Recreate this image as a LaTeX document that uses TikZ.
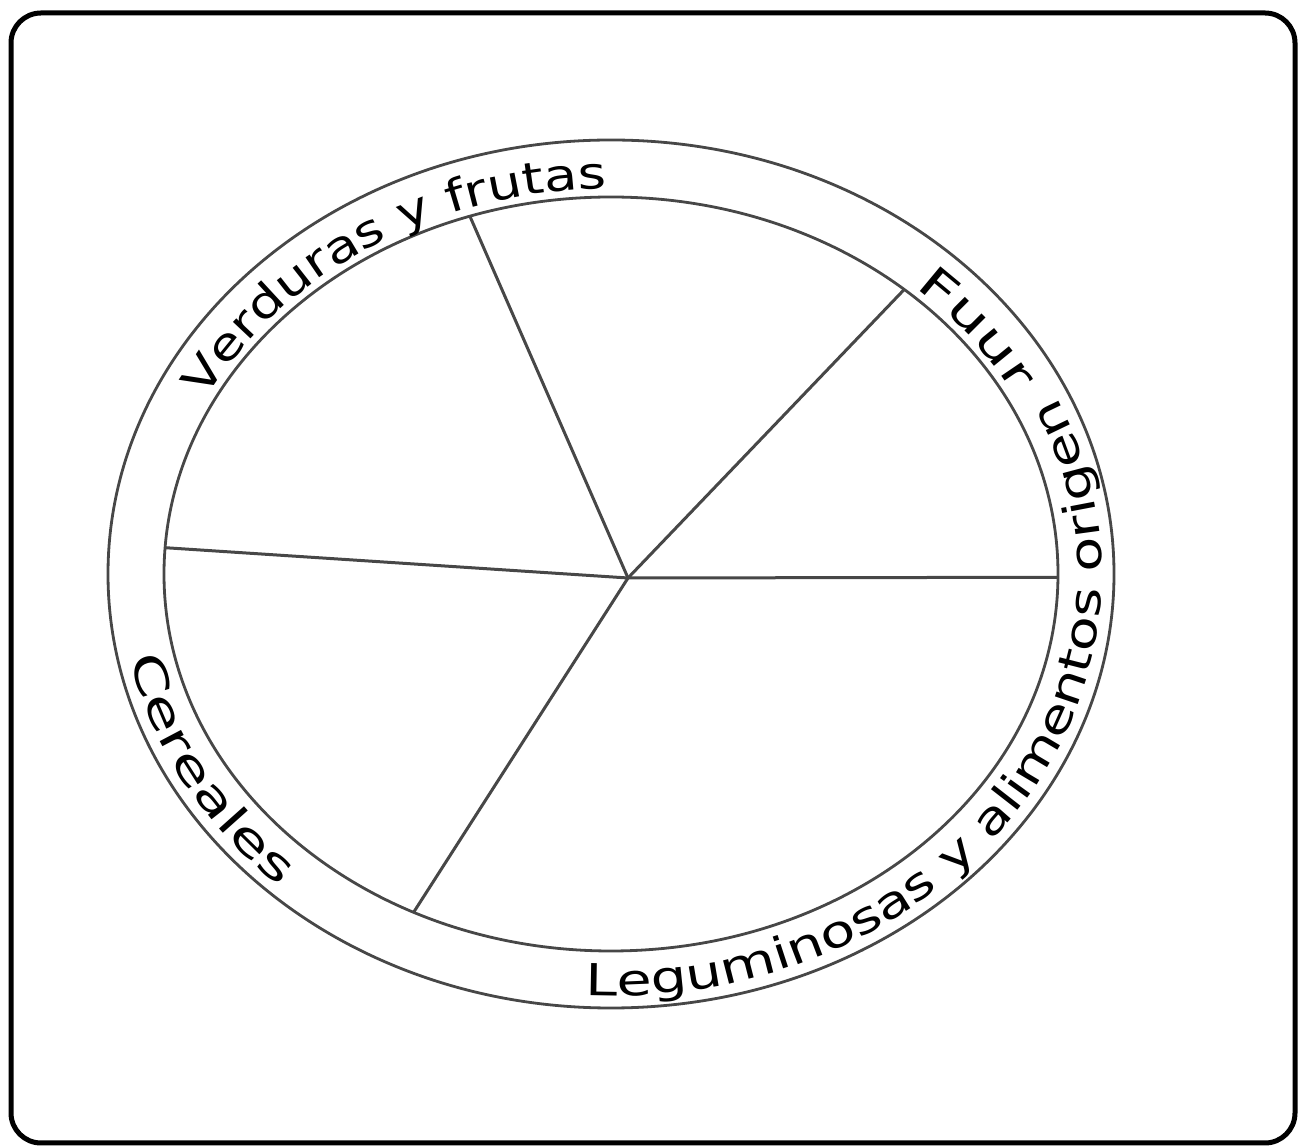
\documentclass[tikz,border=0pt]{standalone}
\usepackage{fontspec}
\setmainfont{DejaVu Sans}
\newfontfamily\lblfam[FakeStretch=1.3]{DejaVu Sans}
\newfontfamily\lblfamnarrow[FakeStretch=1.24]{DejaVu Sans}
\newfontfamily\lblfamwide[FakeStretch=1.45]{DejaVu Sans}
\usetikzlibrary{decorations.text}
\newcommand\lblfont{\lblfam\fontsize{44}{50}\selectfont}
\newcommand\lblfontn{\lblfamnarrow\fontsize{44}{50}\selectfont}
\newcommand\lblfontw{\lblfamwide\fontsize{44}{50}\selectfont}
\begin{document}
\begin{tikzpicture}[x=1pt,y=1pt,
  ring/.style={draw=black!72, line width=2.8pt},
  spoke/.style={draw=black!72, line width=3pt},
  frame/.style={draw=black, line width=5pt, rounded corners=30pt},
  lbl/.style={decorate, decoration={text along path, text align={left indent=0pt}, text format delimiters={|}{|}}}]
\useasboundingbox (0,0) rectangle (1304,1146);
\draw[frame] (11,3) rectangle (1295,1133);
\coordinate (ctr) at (611,572);
\draw[ring] (ctr) ellipse [x radius=503, y radius=434];
\draw[ring] (ctr) ellipse [x radius=447, y radius=377];
\coordinate (hub) at (628,568);
\path (ctr) ++(-0.5:447 and 377) coordinate (e1);
\path (ctr) ++(49:447 and 377) coordinate (e2);
\path (ctr) ++(108.4:447 and 377) coordinate (e3);
\path (ctr) ++(176:447 and 377) coordinate (e4);
\path (ctr) ++(243.8:447 and 377) coordinate (e5);
\draw[spoke] (hub) -- (e1);
\draw[spoke] (hub) -- (e2);
\draw[spoke] (hub) -- (e3);
\draw[spoke] (hub) -- (e4);
\draw[spoke] (hub) -- (e5);
% labels along the ring
\path[lbl, decoration={text={|\lblfontn|Verduras y frutas}}] (ctr) ++(153:455 and 385) arc[start angle=153, end angle=40, x radius=455, y radius=385];
\path[lbl, decoration={text={|\lblfontw|Fuur}}] (ctr) ++(48:455 and 385) arc[start angle=48, end angle=-10, x radius=455, y radius=385];
\path[lbl, decoration={text={|\lblfont|Leguminosas y alimentos origen}}] (ctr) ++(267:491 and 422) arc[start angle=267, end angle=440, x radius=491, y radius=422];
\path[lbl, decoration={text={|\lblfontw|Cereales}}] (ctr) ++(191.5:491 and 422) arc[start angle=191.5, end angle=270, x radius=491, y radius=422];
\end{tikzpicture}
\end{document}
